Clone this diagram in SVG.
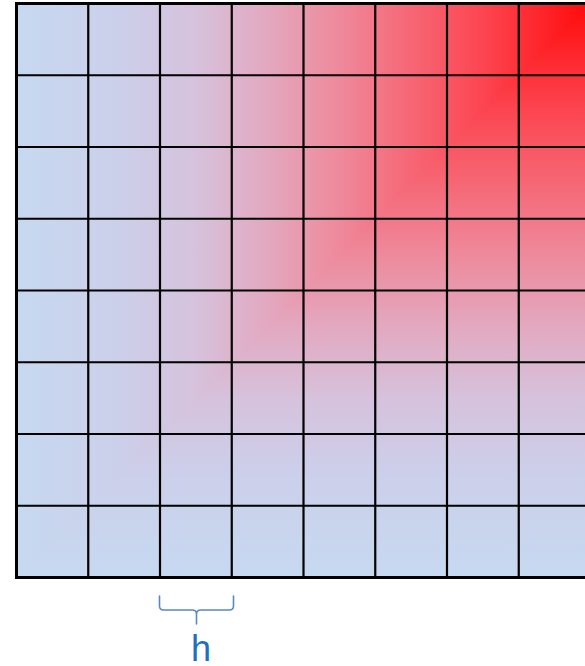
<svg xmlns="http://www.w3.org/2000/svg" width="585" height="666" viewBox="0 0 585 666">
<style>
.grid{stroke:#000;stroke-width:2.2;fill:none}
.border{stroke:#000;stroke-width:3;fill:none}
.brace{stroke:#5A87C5;stroke-width:1.6;fill:none;stroke-linecap:round}
.lbl{font-family:"Liberation Sans",Arial,sans-serif;font-size:36px;fill:#1F6FBF}
</style>
<defs>
<linearGradient id="gh" gradientUnits="userSpaceOnUse" x1="16.5" y1="0" x2="590.5" y2="0">
<stop offset="0" stop-color="#C6D9F0"/>
<stop offset="0.18" stop-color="#CCCFEA"/>
<stop offset="0.31" stop-color="#D6C2DC"/>
<stop offset="0.43" stop-color="#E2AAC2"/>
<stop offset="0.56" stop-color="#EE8A9C"/>
<stop offset="0.69" stop-color="#F66674"/>
<stop offset="0.81" stop-color="#FC4652"/>
<stop offset="1" stop-color="#FF0A0A"/>
</linearGradient>
<linearGradient id="gv" gradientUnits="userSpaceOnUse" x1="0" y1="577.5" x2="0" y2="3.5">
<stop offset="0" stop-color="#C6D9F0"/>
<stop offset="0.18" stop-color="#CCCFEA"/>
<stop offset="0.31" stop-color="#D6C2DC"/>
<stop offset="0.43" stop-color="#E2AAC2"/>
<stop offset="0.56" stop-color="#EE8A9C"/>
<stop offset="0.69" stop-color="#F66674"/>
<stop offset="0.81" stop-color="#FC4652"/>
<stop offset="1" stop-color="#FF0A0A"/>
</linearGradient>
</defs>
<g id="field">
<rect x="16.5" y="3.5" width="574" height="574" fill="url(#gh)"/>
<polygon points="16.5,577.5 590.5,577.5 590.5,3.5" fill="url(#gv)"/>
</g>
<g id="grid">
<path class="grid" d="M88.25,3.5V577.5M160,3.5V577.5M231.75,3.5V577.5M303.5,3.5V577.5M375.25,3.5V577.5M447,3.5V577.5M518.75,3.5V577.5M16.5,75.25H590.5M16.5,147H590.5M16.5,218.75H590.5M16.5,290.5H590.5M16.5,362.25H590.5M16.5,434H590.5M16.5,505.75H590.5"/>
<rect class="border" x="16.5" y="3.5" width="574" height="574"/>
</g>
<g id="brace">
<path class="brace" d="M159.5,596V606Q159.5,610 163.5,610H192Q196.5,610 196.5,614V624M196.5,614Q196.5,610 201,610H229.5Q233.5,610 233.5,606V596"/>
</g>
<g id="label">
<text class="lbl" x="201" y="661" text-anchor="middle">h</text>
</g>
</svg>
